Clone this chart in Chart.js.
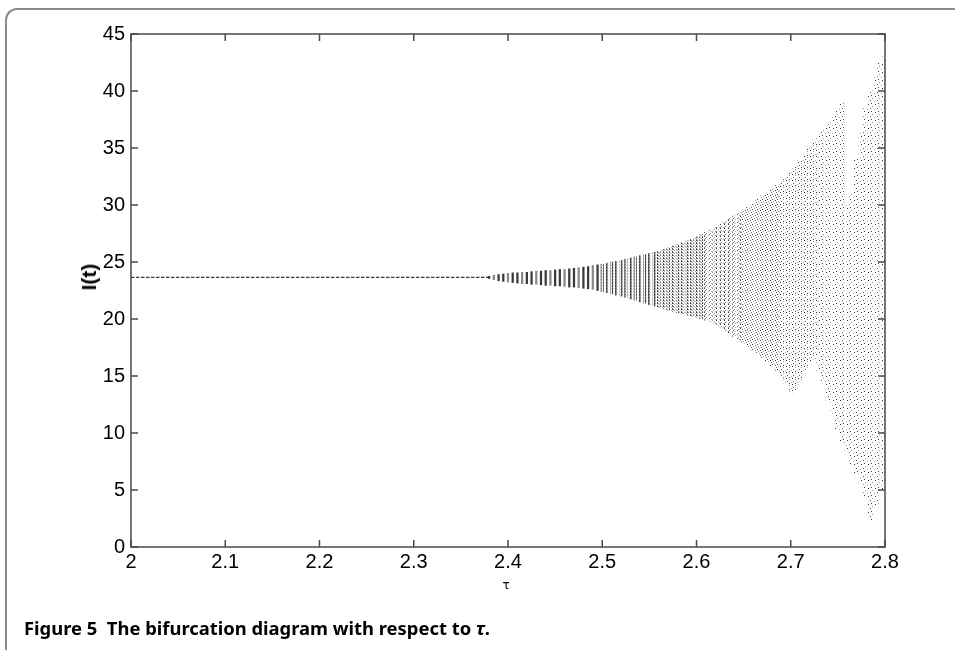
<!DOCTYPE html>
<html>
<head>
<meta charset="utf-8">
<script src="https://cdn.jsdelivr.net/npm/chart.js@4.4.0/dist/chart.umd.min.js"></script>
<style>
html,body{margin:0;padding:0;background:#fff;}
#wrap{position:relative;width:955px;height:650px;overflow:hidden;}
#frame{position:absolute;left:5px;top:8px;width:1000px;height:700px;border-top:2px solid #8c8c8c;border-left:2px solid #8c8c8c;border-top-left-radius:12px;}
canvas{position:absolute;left:0;top:0;}
.lbl{position:absolute;white-space:pre;color:#000;}
#ylab{left:89px;top:277px;transform:translate(-50%,-50%) rotate(-90deg);font:bold 21px "Liberation Sans",Arial,sans-serif;}
#xlab{left:506px;top:585px;transform:translate(-50%,-50%);font:12px "DejaVu Sans",sans-serif;}
#caption{left:24px;top:617px;font:bold 18.4px "Noto Sans",sans-serif;line-height:22px;}
</style>
</head>
<body>
<div id="wrap">
  <div id="frame"></div>
  <canvas id="chart" width="955" height="650"></canvas>
  <div class="lbl" id="ylab">I(t)</div>
  <div class="lbl" id="xlab">τ</div>
  <div class="lbl" id="caption">Figure 5  The bifurcation diagram with respect to <i>τ</i>.</div>
</div>
<script>
// stable equilibrium before the bifurcation
const stableTau=[2.0, 2.38];
const stableI=[23.65, 23.65];

// columns after the bifurcation: range of I(t) at each tau
const tauCols=[2.380,2.385,2.390,2.395,2.400,2.405,2.410,2.415,2.420,2.425,
  2.430,2.435,2.440,2.445,2.450,2.455,2.460,2.465,2.470,2.475,
  2.480,2.485,2.490,2.495,2.500,2.505,2.510,2.515,2.520,2.525,
  2.530,2.535,2.540,2.545,2.550,2.555,2.560,2.565,2.570,2.575,
  2.580,2.585,2.590,2.595,2.600,2.605,2.610,2.615,2.620,2.625,
  2.630,2.635,2.640,2.645,2.650,2.655,2.660,2.665,2.670,2.675,
  2.680,2.685,2.690,2.695,2.700,2.705,2.710,2.715,2.720,2.725,
  2.730,2.735,2.740,2.745,2.750,2.755,2.760,2.765,2.770,2.775,
  2.780,2.785,2.790,2.795,2.800];
const upperI=[23.75,23.85,23.90,23.95,24.00,24.05,24.05,24.10,24.10,24.15,
  24.20,24.20,24.25,24.25,24.30,24.35,24.35,24.40,24.45,24.50,
  24.55,24.60,24.70,24.75,24.80,24.90,25.00,25.05,25.15,25.25,
  25.35,25.45,25.55,25.65,25.75,25.85,25.95,26.10,26.25,26.40,
  26.55,26.70,26.85,27.00,27.20,27.40,27.60,27.80,28.05,28.30,
  28.55,28.80,29.05,29.30,29.55,29.80,30.10,30.50,30.80,31.05,
  31.35,31.70,32.05,32.45,32.90,33.40,33.90,34.40,34.95,35.50,
  36.10,36.70,37.30,37.90,38.40,38.90,30.00,31.00,34.00,36.50,
  38.50,40.00,41.20,42.50,43.00];
const lowerI=[23.55,23.45,23.35,23.30,23.25,23.20,23.15,23.10,23.10,23.05,
  23.05,23.00,22.95,22.95,22.90,22.90,22.85,22.80,22.80,22.75,
  22.70,22.65,22.60,22.50,22.40,22.30,22.20,22.10,22.00,21.90,
  21.75,21.65,21.50,21.40,21.25,21.15,21.00,20.90,20.75,20.65,
  20.55,20.45,20.35,20.25,20.15,20.05,19.90,19.75,19.55,19.30,
  19.00,18.75,18.45,18.15,17.85,17.55,17.25,16.95,16.60,16.25,
  15.90,15.50,15.00,14.40,13.50,13.80,14.60,15.50,16.20,16.50,
  15.50,14.40,12.90,11.60,10.20,9.20,8.30,7.30,6.50,5.60,
  4.50,2.40,3.60,5.00,6.50];

const xTickVals=[2,2.1,2.2,2.3,2.4,2.5,2.6,2.7,2.8];
const yTickVals=[0,5,10,15,20,25,30,35,40,45];

// split the columns by how scattered the dots look
function cols(from,to){
  const out=[];
  tauCols.forEach((t,i)=>{ if(t>=from-1e-9 && t<to-1e-9) out.push({x:t,y:[lowerI[i],upperI[i]]}); });
  return out;
}

// dot textures, sparser as the orbit spreads out
let patterns=null;
function makePattern(ctx,w,h,dots){
  const c=document.createElement('canvas');
  c.width=w; c.height=h;
  const g=c.getContext('2d');
  dots.forEach(d=>{ g.fillStyle=d[2]; g.fillRect(d[0],d[1],1,1); });
  return ctx.createPattern(c,'repeat');
}
function pat(name){
  return c=>{
    if(!patterns){
      const ctx=c.chart.ctx;
      patterns={
        a:makePattern(ctx,3,3,[[0,0,'#333'],[1,0,'#888'],[0,1,'#555'],[1,1,'#aaa'],[2,1,'#ccc'],[0,2,'#666'],[1,2,'#999']]),
        b:makePattern(ctx,3,3,[[0,0,'#333'],[1,0,'#999'],[2,1,'#aaa'],[0,2,'#666'],[1,1,'#ccc']]),
        b2:makePattern(ctx,4,4,[[0,0,'#333'],[2,1,'#999'],[1,2,'#666'],[3,3,'#aaa'],[0,3,'#777']]),
        c:makePattern(ctx,5,5,[[0,0,'#333'],[3,1,'#999'],[1,2,'#666'],[4,3,'#aaa'],[2,4,'#444']]),
        c2:makePattern(ctx,6,6,[[0,0,'#333'],[3,1,'#999'],[1,3,'#555'],[5,4,'#aaa'],[3,5,'#444']]),
        d:makePattern(ctx,7,8,[[0,0,'#333'],[4,2,'#999'],[2,4,'#555'],[6,5,'#aaa'],[3,7,'#444']])
      };
    }
    return patterns[name];
  };
}

// matlab style box with inward ticks on all four sides
const boxPlugin={
  id:'box',
  afterDraw(chart){
    const {ctx,chartArea:a,scales:{x,y}}=chart;
    ctx.save();
    ctx.strokeStyle='#4a4a4a';
    ctx.lineWidth=1.5;
    ctx.strokeRect(a.left,a.top,a.right-a.left,a.bottom-a.top);
    ctx.beginPath();
    xTickVals.forEach(v=>{
      const px=x.getPixelForValue(v);
      ctx.moveTo(px,a.bottom); ctx.lineTo(px,a.bottom-7);
      ctx.moveTo(px,a.top); ctx.lineTo(px,a.top+7);
    });
    yTickVals.forEach(v=>{
      const py=y.getPixelForValue(v);
      ctx.moveTo(a.left,py); ctx.lineTo(a.left+7,py);
      ctx.moveTo(a.right,py); ctx.lineTo(a.right-7,py);
    });
    ctx.stroke();
    ctx.restore();
  }
};

const tickFont={family:'"Liberation Sans",Arial,sans-serif',size:20};

new Chart(document.getElementById('chart'),{
  type:'bar',
  data:{
    datasets:[
      {
        type:'line',
        data:stableTau.map((t,i)=>({x:t,y:stableI[i]})),
        borderColor:'#3a3a3a',
        borderWidth:1.4,
        borderDash:[3.5,1.5],
        pointRadius:0
      },
      {
        data:cols(2.3,2.5),
        backgroundColor:c=>(c.dataIndex%3===1 ? '#8a8a8a' : '#3a3a3a'),
        borderWidth:0,
        barThickness:1.6
      },
      {data:cols(2.5,2.56),backgroundColor:pat('a'),borderWidth:0,barThickness:2.5},
      {data:cols(2.56,2.61),backgroundColor:pat('b'),borderWidth:0,barThickness:3},
      {data:cols(2.61,2.65),backgroundColor:pat('b2'),borderWidth:0,barThickness:3},
      {data:cols(2.65,2.69),backgroundColor:pat('c'),borderWidth:0,barThickness:4},
      {data:cols(2.69,2.73),backgroundColor:pat('c2'),borderWidth:0,barThickness:5},
      {data:cols(2.73,2.9),backgroundColor:pat('d'),borderWidth:0,barThickness:5}
    ]
  },
  options:{
    responsive:false,
    animation:false,
    devicePixelRatio:1,
    layout:{padding:{top:34,right:70,left:0,bottom:0}},
    plugins:{legend:{display:false},tooltip:{enabled:false}},
    datasets:{bar:{grouped:false}},
    scales:{
      x:{
        type:'linear',min:2,max:2.8,offset:false,
        grid:{display:false,drawTicks:false,offset:false},
        border:{display:false},
        afterBuildTicks:s=>{ s.ticks=xTickVals.map(v=>({value:v})); },
        afterFit:s=>{ s.height=103; },
        ticks:{color:'#000',font:tickFont,padding:3,maxRotation:0,autoSkip:false,
          callback:v=>String(+v.toFixed(1))}
      },
      y:{
        min:0,max:45,
        grid:{display:false,drawTicks:false},
        border:{display:false},
        afterBuildTicks:s=>{ s.ticks=yTickVals.map(v=>({value:v})); },
        afterFit:s=>{ s.width=131; },
        ticks:{color:'#000',font:tickFont,padding:6,autoSkip:false}
      }
    }
  },
  plugins:[boxPlugin]
});
</script>
</body>
</html>
